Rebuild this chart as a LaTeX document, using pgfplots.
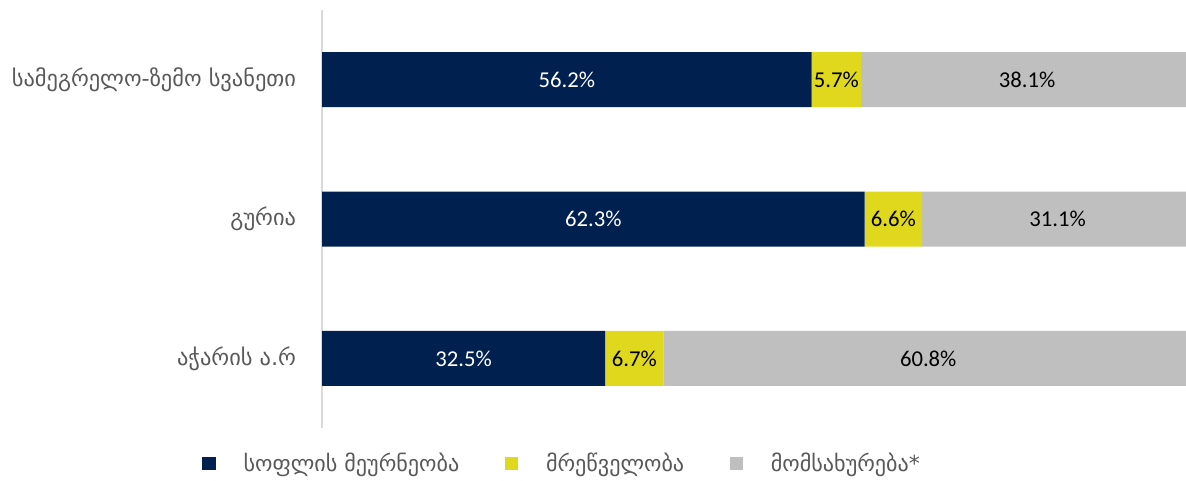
\documentclass[border=0pt]{standalone}
\usepackage{pgfplots}
\pgfplotsset{compat=1.18}
\usetikzlibrary{calc}
\usepackage{fontspec}
\setmainfont{Carlito}
\newfontfamily\geo{DejaVu Sans}
\definecolor{navy}{HTML}{002050}
\definecolor{yel}{HTML}{E0D81C}
\definecolor{gry}{HTML}{BFBFBF}
\definecolor{txt}{HTML}{595959}
\definecolor{axl}{HTML}{D9D9D9}
\begin{document}
\begin{tikzpicture}
\begin{axis}[
  name=ax,
  xbar stacked,
  scale only axis,
  width=653pt, height=313.5pt,
  xmin=0, xmax=100,
  ymin=-0.5, ymax=2.5,
  bar width=41.25pt,
  ytick={0,1,2},
  yticklabels={აჭარის ა.რ, გურია, სამეგრელო-ზემო სვანეთი},
  yticklabel style={font=\geo\fontsize{16.8}{20}\selectfont, text=txt, xshift=-16pt},
  major tick length=0pt,
  axis x line=none,
  axis y line*=left,
  y axis line style={draw=axl, line width=1.5pt},
  /pgf/number format/assume math mode=true,
  nodes near coords={\pgfmathprintnumber[fixed,precision=1,fixed zerofill]{\pgfplotspointmeta}\%},
  every node near coord/.append style={font=\fontsize{17}{20}\selectfont},
  legend style={at={(0.276,-0.084)}, anchor=center, legend columns=3, draw=none,
    font=\geo\fontsize{16.6}{20}\selectfont, text=txt,
    /tikz/every odd column/.append style={column sep=19pt},
    /tikz/every even column/.append style={column sep=32pt}},
  legend image code/.code={\path[#1,draw=none] (0pt,-5pt) rectangle (10pt,5pt);},
]
\addplot[fill=navy, draw=none, every node near coord/.append style={text=white}] coordinates {(32.5,0) (62.3,1) (56.2,2)};
\addplot[fill=yel, draw=none, every node near coord/.append style={text=black}] coordinates {(6.7,0) (6.6,1) (5.7,2)};
\addplot[fill=gry, draw=none, every node near coord/.append style={text=black}] coordinates {(60.8,0) (31.1,1) (38.1,2)};
\legend{სოფლის მეურნეობა, მრეწველობა, მომსახურება*}
\end{axis}
\pgfresetboundingbox
\path ($(ax.south west)+(-241.5pt,-39pt)$) rectangle ($(ax.north east)+(-5.25pt,7.5pt)$);
\end{tikzpicture}
\end{document}
